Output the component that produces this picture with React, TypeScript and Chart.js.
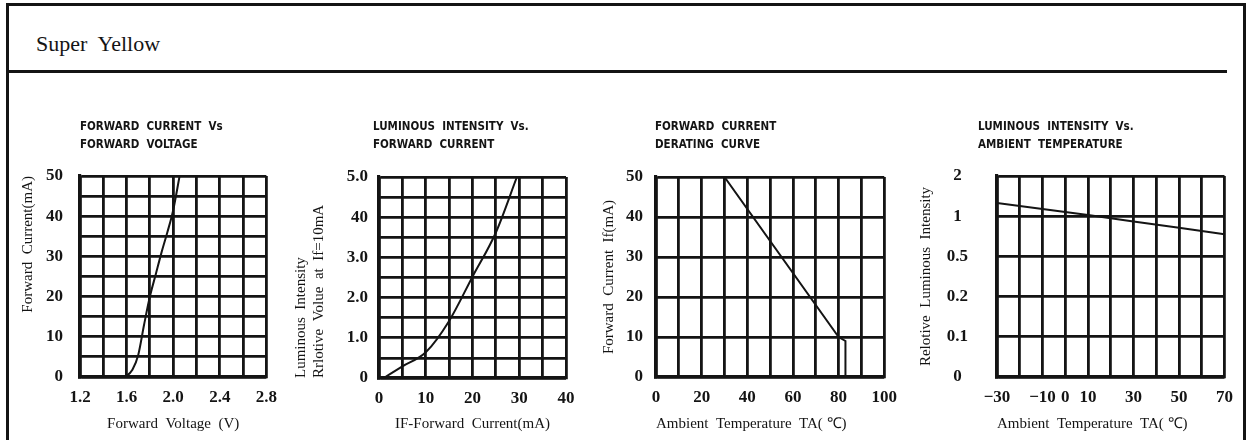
import React, { useEffect, useRef } from 'react';
import { Chart, registerables } from 'chart.js';

Chart.register(...registerables);

// ---------------- data ----------------
// 1) Forward current vs forward voltage
const fvVoltage = [1.2, 1.55, 1.6, 1.65, 1.7, 1.75, 1.8, 1.85, 1.9, 1.95, 2.0, 2.055];
const fvCurrent = [0, 0, 0.3, 1.8, 5.5, 13, 20, 25.5, 31, 36, 41.5, 50];
const fvVoltageLabels = [1.2, 1.6, 2.0, 2.4, 2.8];
const fvCurrentLabels = [0, 10, 20, 30, 40, 50];

// 2) Luminous intensity vs forward current
const liCurrent = [1, 5, 10, 15, 20, 25, 29.5];
const liIntensity = [0, 0.29, 0.64, 1.42, 2.52, 3.62, 5.0];
const liCurrentLabels = [0, 10, 20, 30, 40];
const liIntensityLabels = ['0', '1.0', '2.0', '3.0', '40', '5.0'];

// 3) Forward current derating curve
const drTemp = [30, 80, 83, 83];
const drCurrent = [50, 10, 9, 0];
const drTempLabels = [0, 20, 40, 60, 80, 100];
const drCurrentLabels = [0, 10, 20, 30, 40, 50];

// 4) Luminous intensity vs ambient temperature
const ltTemp = [-30, -10, 10, 30, 50, 70];
const ltIntensity = [1.33, 1.18, 1.03, 0.935, 0.855, 0.775];
const ltTempLabels = [-30, -10, 0, 10, 30, 50, 70];
const ltIntensityTicks = [0, 0.1, 0.2, 0.5, 1, 2];
const ltIntensityTickLabels = ['0', '0.1', '0.2', '0.5', '1', '2'];

// ---------------- styling ----------------
const INK = '#141414';
const CANVAS_TOP = 100;
const PAGE_H = 440;
const TICK_FONT = { family: "'Liberation Serif', 'Times New Roman', serif", size: 17, weight: 'bold' as const };
const TITLE_FONT = { family: "'Liberation Serif', 'Times New Roman', serif", size: 15 };
const HEAD_FONT = "bold 11.5px 'Liberation Sans Narrow', 'DejaVu Sans Condensed', 'Liberation Sans', sans-serif";

const near = (list: number[], v: number) => list.some((x) => Math.abs(x - v) < 1e-6);

// piecewise position on the non-uniform intensity axis of chart 4
const ltPos = (v: number) => {
  const t = ltIntensityTicks;
  for (let i = 0; i < t.length - 1; i++) {
    if (v >= t[i] && v <= t[i + 1]) return i + (v - t[i]) / (t[i + 1] - t[i]);
  }
  return v > t[t.length - 1] ? t.length - 1 : 0;
};

const headingPlugin = {
  id: 'heading',
  afterDraw(chart: any, _args: any, opts: any) {
    const { ctx, chartArea } = chart;
    ctx.save();
    ctx.font = HEAD_FONT;
    ctx.fillStyle = INK;
    ctx.textBaseline = 'middle';
    ctx.textAlign = 'left';
    (opts.lines || []).forEach((t: string, i: number) => {
      ctx.fillText(t, chartArea.left + (opts.dx || 0), 27 + i * 18);
    });
    ctx.restore();
  },
};

type Spec = {
  plot: { l: number; r: number; t: number; b: number };
  axisW: number;
  padR: number;
  heading: string[];
  headDx: number;
  points: { x: number; y: number }[];
  monotone: boolean;
  x: { min: number; max: number; step: number; label: (v: number) => string; title: string; align: string };
  y: {
    min: number; max: number; step: number; label: (v: number) => string;
    title: string | string[]; align: string; titlePad: number; tickPad: number; cross: string;
  };
};

function buildConfig(s: Spec): any {
  return {
    type: 'line',
    data: {
      datasets: [
        {
          data: s.points,
          borderColor: INK,
          borderWidth: 2,
          pointRadius: 0,
          fill: false,
          tension: s.monotone ? 0.4 : 0,
          cubicInterpolationMode: s.monotone ? 'monotone' : 'default',
        },
      ],
    },
    options: {
      animation: false,
      responsive: true,
      maintainAspectRatio: false,
      layout: { padding: { top: s.plot.t - CANVAS_TOP, right: s.padR, left: 0, bottom: 0 } },
      plugins: {
        legend: { display: false },
        tooltip: { enabled: false },
        heading: { lines: s.heading, dx: s.headDx },
      },
      scales: {
        x: {
          type: 'linear',
          min: s.x.min,
          max: s.x.max,
          ticks: {
            stepSize: s.x.step,
            autoSkip: false,
            maxRotation: 0,
            padding: 10,
            color: INK,
            font: TICK_FONT,
            callback: (v: any) => s.x.label(Number(v)),
          },
          grid: { color: INK, lineWidth: 2.8, drawTicks: false },
          border: { color: INK, width: 3.2 },
          title: {
            display: true,
            text: s.x.title,
            align: s.x.align,
            color: INK,
            font: TITLE_FONT,
            padding: { top: 0, bottom: 7 },
          },
          afterFit: (sc: any) => {
            sc.height = PAGE_H - s.plot.b;
          },
        },
        y: {
          type: 'linear',
          min: s.y.min,
          max: s.y.max,
          ticks: {
            stepSize: s.y.step,
            autoSkip: false,
            padding: s.y.tickPad,
            crossAlign: s.y.cross,
            color: INK,
            font: TICK_FONT,
            callback: (v: any) => s.y.label(Number(v)),
          },
          grid: { color: INK, lineWidth: 2.8, drawTicks: false },
          border: { color: INK, width: 3.2 },
          title: {
            display: true,
            text: s.y.title,
            align: s.y.align,
            color: INK,
            font: TITLE_FONT,
            padding: { top: s.y.titlePad, bottom: 0 },
          },
          afterFit: (sc: any) => {
            sc.width = s.axisW;
          },
        },
      },
    },
    plugins: [headingPlugin],
  };
}

const specs: Spec[] = [
  {
    plot: { l: 80, r: 267, t: 176, b: 377 },
    axisW: 75,
    padR: 20,
    heading: ['FORWARD  CURRENT  Vs', 'FORWARD  VOLTAGE'],
    headDx: 0,
    points: fvVoltage.map((x, i) => ({ x, y: fvCurrent[i] })),
    monotone: true,
    x: {
      min: 1.2, max: 2.8, step: 0.2,
      label: (v) => (near(fvVoltageLabels, v) ? v.toFixed(1) : ''),
      title: 'Forward  Voltage  (V)', align: 'center',
    },
    y: {
      min: 0, max: 50, step: 5,
      label: (v) => (near(fvCurrentLabels, v) ? String(Math.round(v)) : ''),
      title: 'Forward  Current(mA)', align: 'end', titlePad: 14, tickPad: 17, cross: 'near',
    },
  },
  {
    plot: { l: 379, r: 566, t: 177, b: 378 },
    axisW: 90,
    padR: 20,
    heading: ['LUMINOUS  INTENSITY  Vs.', 'FORWARD  CURRENT'],
    headDx: -6,
    points: liCurrent.map((x, i) => ({ x, y: liIntensity[i] })),
    monotone: true,
    x: {
      min: 0, max: 40, step: 5,
      label: (v) => (near(liCurrentLabels, v) ? String(Math.round(v)) : ''),
      title: 'IF-Forward  Current(mA)', align: 'center',
    },
    y: {
      min: 0, max: 5, step: 0.5,
      label: (v) => (Math.abs(v - Math.round(v)) < 1e-6 ? liIntensityLabels[Math.round(v)] : ''),
      title: ['Luminous  Intensity', 'Rrlotive  Volue  at  If=10mA'], align: 'start', titlePad: 3, tickPad: 11, cross: 'near',
    },
  },
  {
    plot: { l: 656, r: 887, t: 177, b: 377 },
    axisW: 75,
    padR: 20,
    heading: ['FORWARD  CURRENT', 'DERATING  CURVE'],
    headDx: -1,
    points: drTemp.map((x, i) => ({ x, y: drCurrent[i] })),
    monotone: false,
    x: {
      min: 0, max: 100, step: 10,
      label: (v) => (near(drTempLabels, v) ? String(Math.round(v)) : ''),
      title: 'Ambient  Temperature  TA( \u2103)', align: 'start',
    },
    y: {
      min: 0, max: 50, step: 10,
      label: (v) => (near(drCurrentLabels, v) ? String(Math.round(v)) : ''),
      title: 'Forward  Current  If(mA)', align: 'center', titlePad: 19, tickPad: 13, cross: 'near',
    },
  },
  {
    plot: { l: 997, r: 1228, t: 176, b: 377 },
    axisW: 85,
    padR: 15,
    heading: ['LUMINOUS  INTENSITY  Vs.', 'AMBIENT  TEMPERATURE'],
    headDx: -19,
    points: ltTemp.map((x, i) => ({ x, y: ltPos(ltIntensity[i]) })),
    monotone: false,
    x: {
      min: -30, max: 70, step: 10,
      label: (v) => (near(ltTempLabels, v) ? String(Math.round(v)).replace('-', '\u2212') : ''),
      title: 'Ambient  Temperature  TA( \u2103)', align: 'start',
    },
    y: {
      min: 0, max: ltIntensityTicks.length - 1, step: 1,
      label: (v) => ltIntensityTickLabels[Math.round(v)] ?? '',
      title: 'Relotive  Luminous  Intensity', align: 'center', titlePad: 5, tickPad: 29, cross: 'center',
    },
  },
];

function ChartBox({ spec }: { spec: Spec }) {
  const ref = useRef<HTMLCanvasElement>(null);
  useEffect(() => {
    const chart = new Chart(ref.current as HTMLCanvasElement, buildConfig(spec));
    return () => chart.destroy();
  }, [spec]);
  const left = spec.plot.l - spec.axisW;
  const width = spec.plot.r - spec.plot.l + spec.axisW + spec.padR;
  return (
    <div
      style={{
        position: 'absolute',
        left,
        top: CANVAS_TOP,
        width,
        height: PAGE_H - CANVAS_TOP,
      }}
    >
      <canvas ref={ref} />
    </div>
  );
}

export default function App() {
  const line = (style: React.CSSProperties) => (
    <div style={{ position: 'absolute', background: INK, ...style }} />
  );
  return (
    <div
      style={{
        position: 'absolute',
        left: 0,
        top: 0,
        width: 1247,
        height: PAGE_H,
        overflow: 'hidden',
        background: '#fff',
      }}
    >
      {line({ left: 6, top: 3, width: 1240, height: 3 })}
      {line({ left: 6, top: 3, width: 3, height: 437 })}
      {line({ left: 1243, top: 3, width: 3, height: 437 })}
      {line({ left: 6, top: 70, width: 1221, height: 3 })}
      <div
        style={{
          position: 'absolute',
          left: 36,
          top: 31,
          fontFamily: "'Liberation Serif', 'Times New Roman', serif",
          fontSize: 22,
          lineHeight: '26px',
          color: INK,
          whiteSpace: 'pre',
        }}
      >
        {'Super  Yellow'}
      </div>
      {specs.map((s, i) => (
        <ChartBox key={i} spec={s} />
      ))}
    </div>
  );
}
